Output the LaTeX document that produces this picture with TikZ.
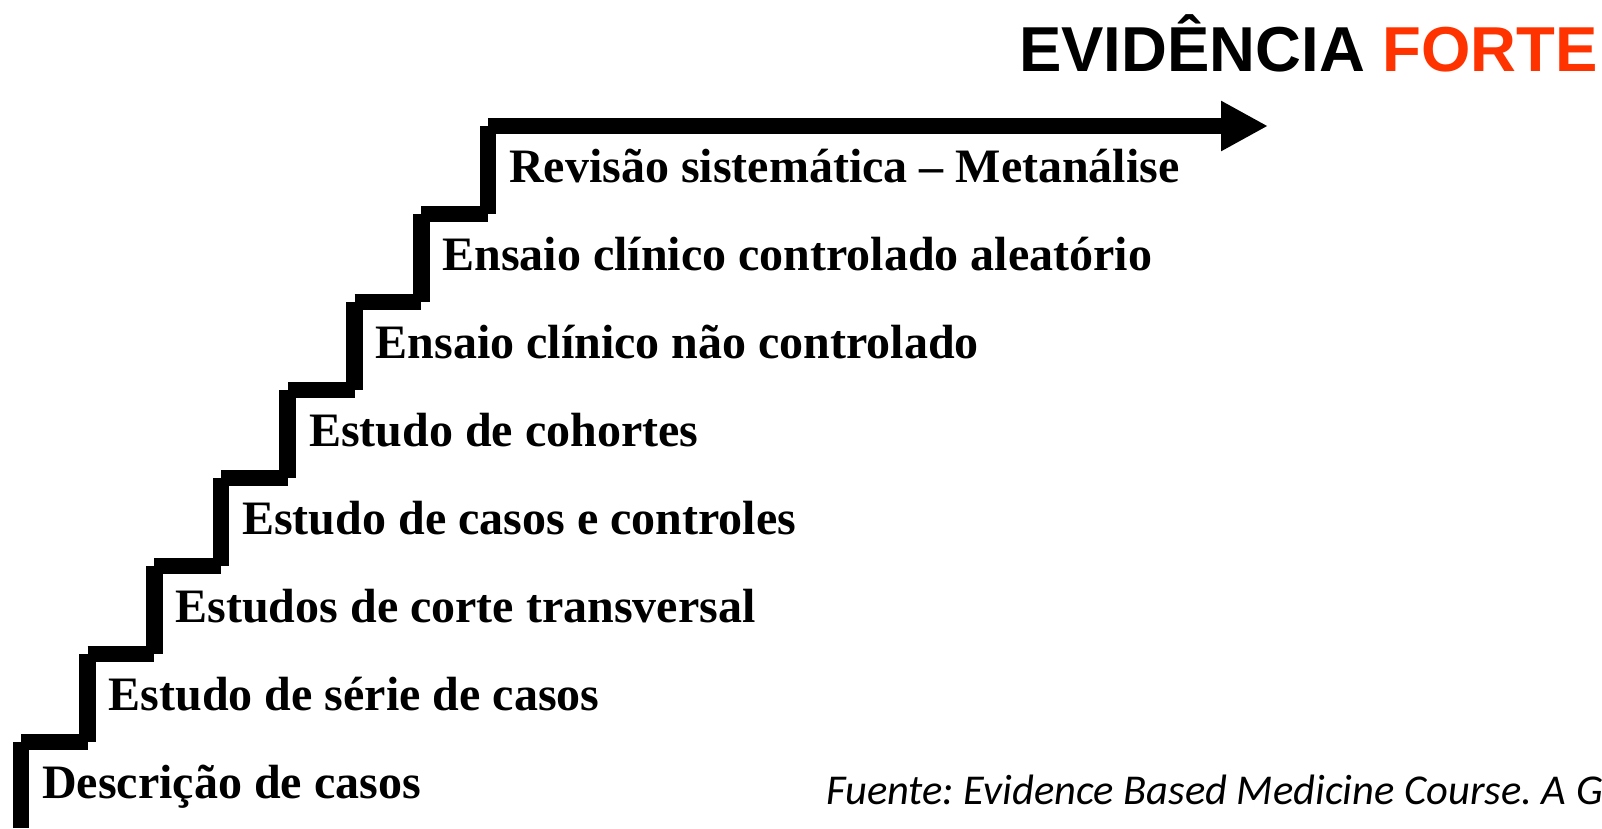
\documentclass[tikz,border=0pt]{standalone}
\usepackage{fontspec}
\setmainfont{Liberation Serif}
\newfontfamily\titlefont{Liberation Sans}
\newfontfamily\notefont{Carlito}
\usetikzlibrary{arrows.meta}
\definecolor{forteorange}{RGB}{255,51,0}
\frenchspacing

\begin{document}
\begin{tikzpicture}[x=1pt, y=-1pt,
    stepline/.style={line width=16.7pt},
    steplabel/.style={anchor=base west, inner sep=0pt, font=\bfseries\fontsize{48}{58}\selectfont}]
    \useasboundingbox (0,0) rectangle (1602,828);

    % corners of the stairs
    \coordinate (b0) at (21,828);
    \foreach \i in {0,...,7} {
        \coordinate (c\i) at ({21+66.7*\i},{742-88*\i});
    }
    \coordinate (tip) at (1268,126);

    \draw[stepline] (b0) -- (c0);
    \foreach \i [count=\j from 1] in {0,...,6} {
        \draw[stepline] (c\i) -- (c\j |- c\i);
        \draw[stepline] (c\j |- c\i) -- (c\j);
    }
    \draw[stepline, -{Triangle[length=47pt, width=47pt]}] (c7) -- (tip);

    \foreach \i/\txt in {0/Descrição de casos, 1/Estudo de série de casos,
        2/Estudos de corte transversal, 3/Estudo de casos e controles,
        4/Estudo de cohortes, 5/Ensaio clínico não controlado,
        6/Ensaio clínico controlado aleatório, 7/Revisão sistemática – Metanálise} {
        \node[steplabel] (l\i) at ([shift={(21,56)}]c\i) {\txt};
    }

    \node[anchor=base east, inner sep=0pt, font=\titlefont\bfseries\fontsize{63.5}{76}\selectfont] (title) at (1598,71)
        {EVIDÊNCIA \textcolor{forteorange}{FORTE}};
    \node[anchor=base west, inner sep=0pt, font=\notefont\itshape\fontsize{42.5}{51}\selectfont] (source) at (826,804)
        {Fuente: Evidence Based Medicine Course. A G};
\end{tikzpicture}
\end{document}
